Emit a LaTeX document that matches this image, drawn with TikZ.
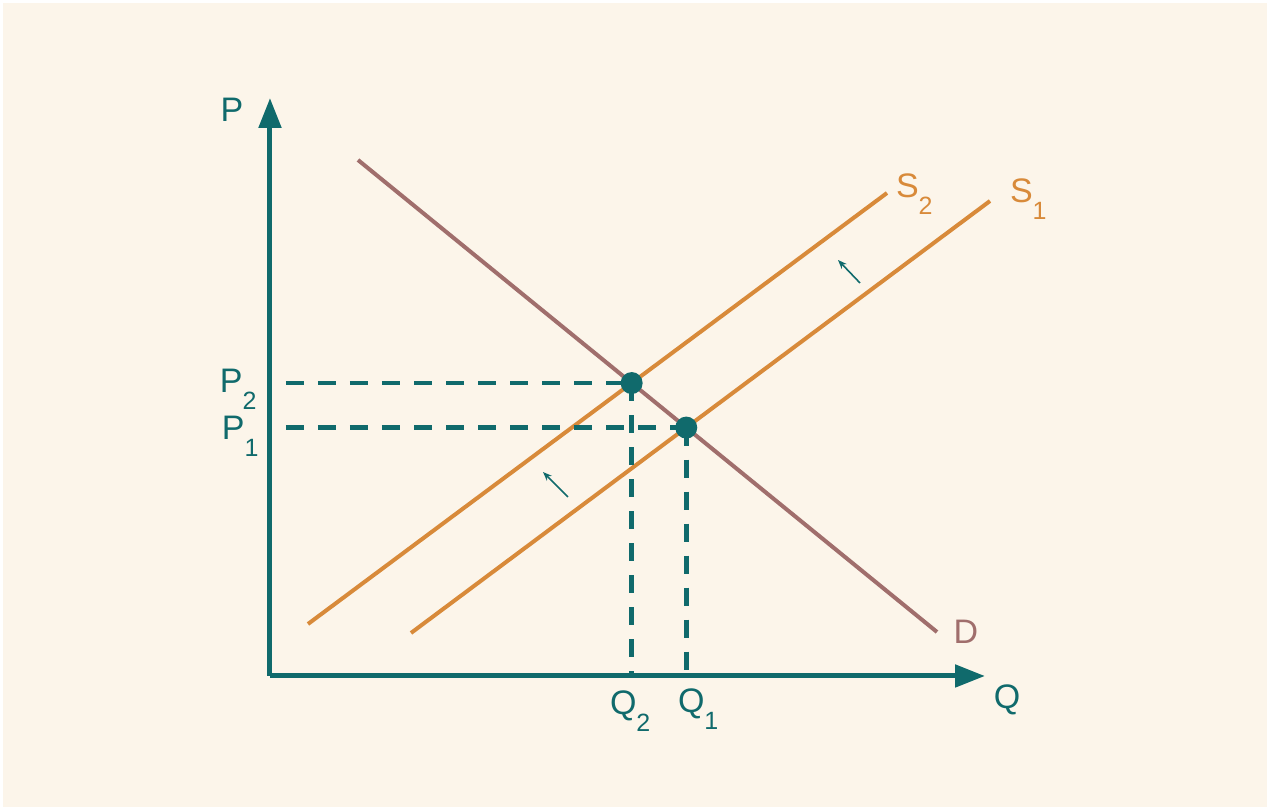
\documentclass[tikz,border=0pt]{standalone}
\usepackage{fontspec}
\setmainfont{Liberation Sans}
\usepackage{xcolor}
\usepackage{tikz}
\usetikzlibrary{arrows.meta,calc,intersections}

\definecolor{bgcream}{HTML}{FCF5EA}
\definecolor{axteal}{HTML}{106A6C}
\definecolor{supplyorange}{HTML}{D88A3A}
\definecolor{demandmauve}{HTML}{A06E6C}

\newcommand{\lsub}[1]{\raisebox{-0.48em}{\fontsize{25}{25}\selectfont #1}}

\begin{document}
\begin{tikzpicture}[x=1pt,y=1pt,line width=4pt,
    axis/.style={axteal,line width=5pt,-{Triangle[length=30pt,width=22pt]}},
    curve/.style={line width=4pt},
    guide/.style={axteal,line width=4.5pt,dash pattern=on 18pt off 14pt},
    shiftarrow/.style={axteal,line width=1.6pt,-{Stealth[length=9pt,width=7pt]}},
    lbl/.style={font=\fontsize{34}{38}\selectfont,inner sep=0pt}]
    \useasboundingbox (-270,-134) rectangle (1000,676);
    \fill[white] (-270,-134) rectangle (1000,676);
    \fill[bgcream] (-267,-131) rectangle (997,673);
    \coordinate (o) at (0,0);
    \coordinate (ptip) at (0,578);
    \coordinate (qtip) at (715,0);
    \coordinate (pstart) at (16,0);
    \coordinate (d0) at (88,516);
    \coordinate (d1) at (667,44);
    \coordinate (sa0) at (38,52);
    \coordinate (sa1) at (617,483);
    \coordinate (sb0) at (141,43);
    \coordinate (sb1) at (720,475);
    \draw[curve,demandmauve,name path=dem] (d0) -- (d1);
    \draw[curve,supplyorange,name path=suptwo] (sa0) -- (sa1);
    \draw[curve,supplyorange,name path=supone] (sb0) -- (sb1);
    \path[name intersections={of=dem and suptwo,by=etwo}];
    \path[name intersections={of=dem and supone,by=eone}];
    \draw[guide] (pstart |- etwo) -- (etwo);
    \draw[guide] (pstart |- eone) -- (eone);
    \draw[guide] (etwo) -- (etwo |- o);
    \draw[guide] (eone) -- (eone |- o);
    \draw[axis] (o) -- (ptip);
    \draw[axis] (o) -- (qtip);
    \fill[axteal] (etwo) circle (11);
    \fill[axteal] (eone) circle (11);
    \coordinate (aonetail) at (298,179);
    \coordinate (aonehead) at (273,204);
    \coordinate (atwotail) at (590,393);
    \coordinate (atwohead) at (568,416);
    \draw[shiftarrow] (aonetail) -- (aonehead);
    \draw[shiftarrow] (atwotail) -- (atwohead);
    \node[lbl,axteal] (plbl) at (-38,566) {P};
    \node[lbl,axteal] (qlbl) at (737,-24) {Q};
    \node[lbl,axteal,anchor=base west] (ptwolbl) at (-52,283) {P\lsub{2}};
    \node[lbl,axteal,anchor=base west] (ponelbl) at (-50,236) {P\lsub{1}};
    \node[lbl,axteal,anchor=base west] (qtwolbl) at (338,-39) {Q\lsub{2}};
    \node[lbl,axteal,anchor=base west] (qonelbl) at (406,-37) {Q\lsub{1}};
    \node[lbl,demandmauve] (dlbl) at (696,44) {D};
    \node[lbl,supplyorange,anchor=base west] (stwolbl) at (624,478) {S\lsub{2}};
    \node[lbl,supplyorange,anchor=base west] (sonelbl) at (738,473) {S\lsub{1}};
\end{tikzpicture}
\end{document}
